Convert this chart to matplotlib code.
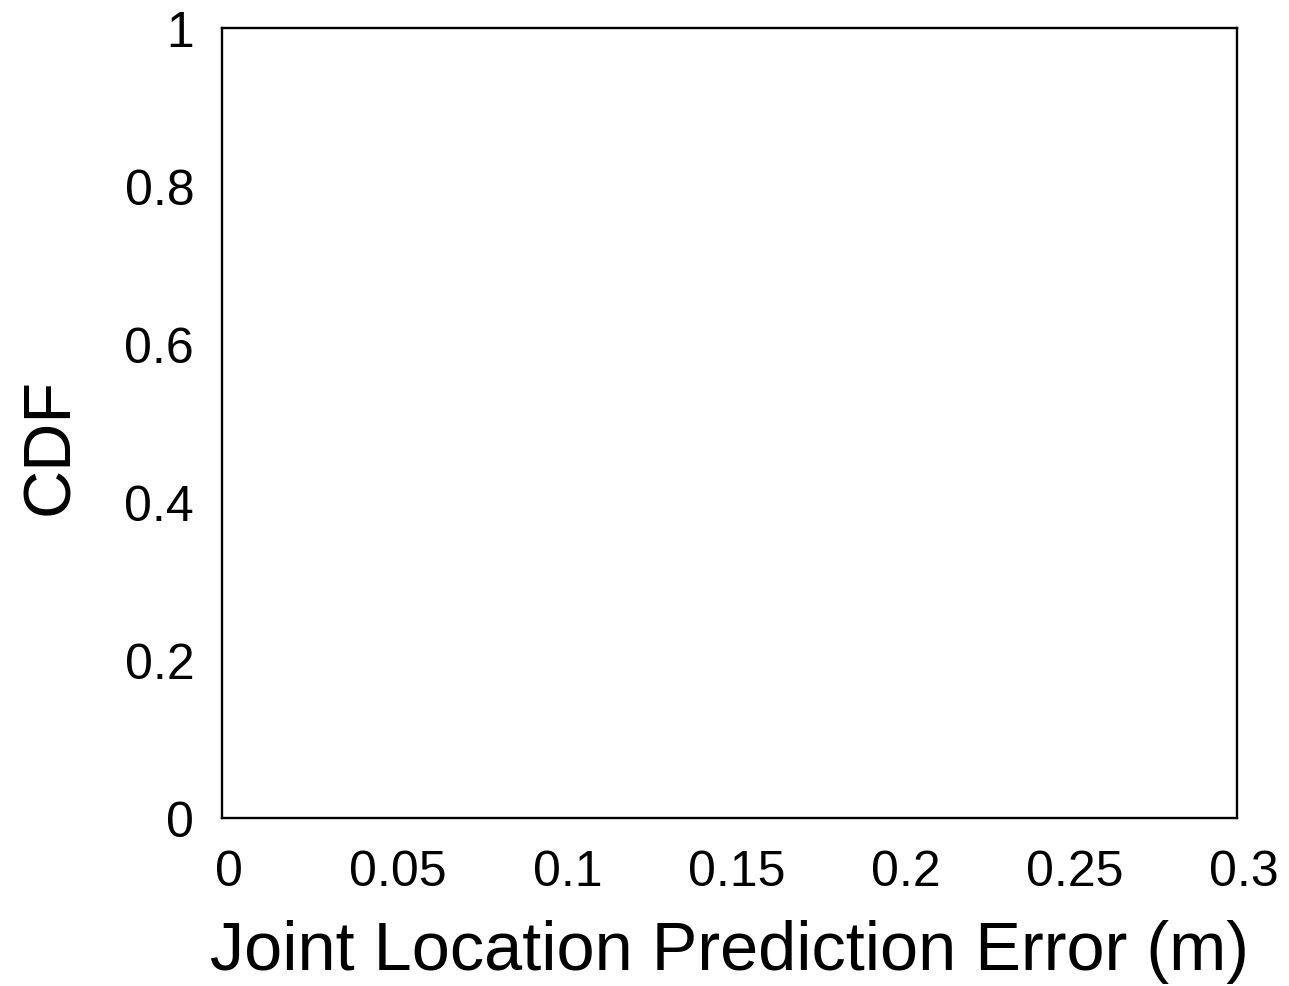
import matplotlib
matplotlib.use("Agg")
import matplotlib.pyplot as plt
from matplotlib import transforms

plt.rcParams['font.family'] = ['Liberation Sans', 'DejaVu Sans']

# Axis ranges and tick values
x_ticks = [0, 0.05, 0.1, 0.15, 0.2, 0.25, 0.3]
x_tick_labels = ["0", "0.05", "0.1", "0.15", "0.2", "0.25", "0.3"]
y_ticks = [0, 0.2, 0.4, 0.6, 0.8, 1]
y_tick_labels = ["0", "0.2", "0.4", "0.6", "0.8", "1"]

fig = plt.figure(figsize=(12.89, 9.87), dpi=100)
ax = fig.add_axes([0.1722, 0.1702, 0.7875, 0.8004])

ax.set_xlim(0, 0.3)
ax.set_ylim(0, 1)
ax.set_xticks(x_ticks)
ax.set_xticklabels(x_tick_labels)
ax.set_yticks(y_ticks)
ax.set_yticklabels(y_tick_labels)

ax.tick_params(axis='both', length=0, labelsize=36)
ax.tick_params(axis='x', pad=22.5)
ax.tick_params(axis='y', pad=20)

# x tick labels sit slightly right of their tick positions
shift = transforms.ScaledTranslation(7 / 100, 0, fig.dpi_scale_trans)
for lbl in ax.get_xticklabels():
    lbl.set_transform(lbl.get_transform() + shift)

for s in ax.spines.values():
    s.set_linewidth(1.7)
    s.set_color('black')

ax.set_xlabel("Joint Location Prediction Error (m)", fontsize=49.3)
ax.xaxis.set_label_coords(0.5, -0.128)
ax.set_ylabel("CDF", fontsize=48)
ax.yaxis.set_label_coords(-0.138, 0.472)

fig.savefig("out.png", dpi=100, facecolor='white')
